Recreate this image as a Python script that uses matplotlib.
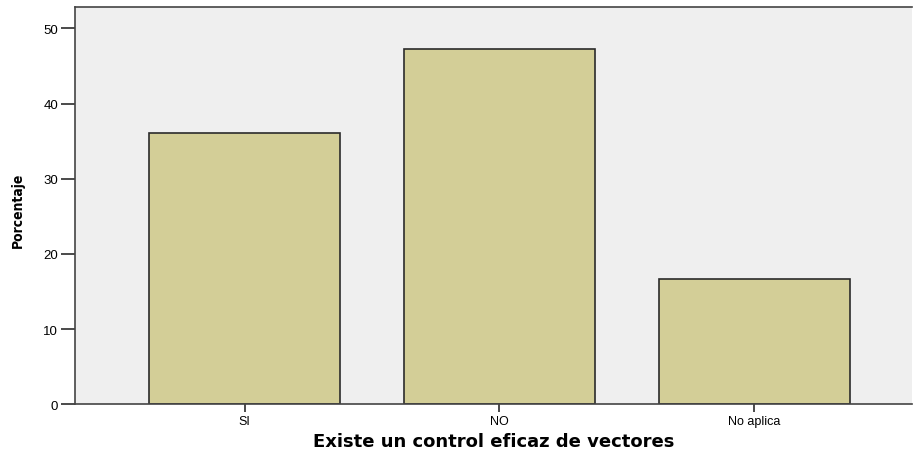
import matplotlib
matplotlib.use('Agg')
import matplotlib.pyplot as plt
from matplotlib import font_manager

categories = ['SI', 'NO', 'No aplica']
porcentaje = [36.1, 47.2, 16.7]
y_ticks = [0, 10, 20, 30, 40, 50]

# pick a narrow bold font for the y label if one is installed
fonts = font_manager.fontManager.ttflist
narrow = [f for f in fonts if f.name == 'Liberation Sans Narrow']
cond = [f for f in fonts if f.name == 'DejaVu Sans' and str(f.stretch) in ('condensed', '400', 'semi-condensed')]
if narrow:
    ylab_kw = dict(family=['Liberation Sans Narrow'], fontsize=10.5)
elif cond:
    ylab_kw = dict(family=['DejaVu Sans'], fontstretch='condensed', fontsize=10)
else:
    ylab_kw = dict(family=['DejaVu Sans'], fontsize=9.5)

fig = plt.figure(figsize=(9.13, 4.52), dpi=100)
ax = fig.add_axes([0.0821, 0.1033, 0.9169, 0.8801])
ax.set_facecolor('#efefef')

x = range(len(categories))
ax.bar(x, porcentaje, width=0.75, color='#d3ce97', edgecolor='#2b2b2b', linewidth=1.2, zorder=2)

ax.set_xlim(-0.666, 2.62)
ax.set_ylim(0, 52.9)
ax.set_yticks(y_ticks)
ax.set_xticks(list(x))
ax.set_xticklabels(categories, fontsize=9, family=['Liberation Sans', 'DejaVu Sans'])
ax.set_yticklabels([str(t) for t in y_ticks], fontsize=9.5, family=['Liberation Sans', 'DejaVu Sans'])
ax.tick_params(axis='y', length=10, width=1.2, color='#2b2b2b', pad=2)
ax.tick_params(axis='x', length=6, width=1.2, color='#2b2b2b', pad=2)

for side in ['left', 'bottom', 'top', 'right']:
    ax.spines[side].set_color('#444444')
    ax.spines[side].set_linewidth(1.2)
ax.spines['right'].set_visible(False)

ax.set_ylabel('Porcentaje', fontweight='bold', **ylab_kw)
ax.yaxis.set_label_coords(-0.0595, 0.49)
ax.set_xlabel('Existe un control eficaz de vectores', fontsize=13, fontweight='bold',
              family=['DejaVu Sans'], labelpad=3)

fig.savefig('out.png', dpi=100)
